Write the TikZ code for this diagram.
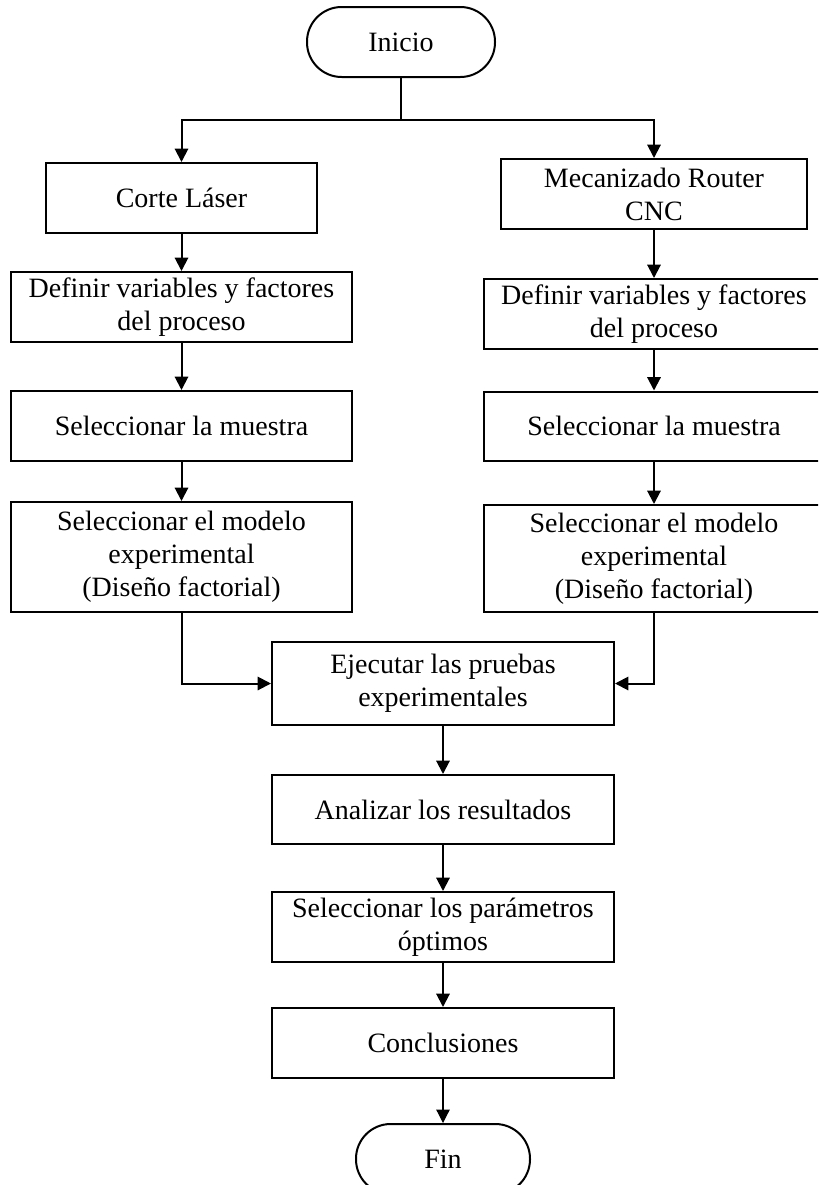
\documentclass[tikz,border=0pt]{standalone}
\usepackage{fontspec}
\setmainfont{Liberation Serif}
\usetikzlibrary{arrows.meta}
\begin{document}
\begin{tikzpicture}[x=0.75pt,y=-0.75pt,
  sz/.style 2 args={minimum width=#1*0.75pt,minimum height=#2*0.75pt},
  box/.style={draw,line width=1.5pt,rectangle,inner sep=0pt,align=center,
    font=\fontsize{21}{24.75}\selectfont},
  term/.style={box,rounded corners=26pt},
  flow/.style={line width=1.5pt,-{Triangle[length=10pt,width=10pt]}},
  thinflow/.style={flow,line width=0.9pt}]
\useasboundingbox (0,0) rectangle (818,1185);
\clip (0,0) rectangle (818,1185);

% start / end terminals
\node[term,sz={188}{70}] (inicio) at (401,42) {Inicio};
\node[term,sz={174}{70}] (fin) at (443,1159) {Fin};

% left branch: laser cutting
\node[box,sz={271}{70}] (corte) at (181.5,198) {Corte Láser};
\node[box,sz={341}{70}] (defL) at (181.5,307) {Definir variables y factores\\del proceso};
\node[box,sz={341}{70}] (muesL) at (181.5,426) {Seleccionar la muestra};
\node[box,sz={341}{110}] (modL) at (181.5,557) {Seleccionar el modelo\\experimental\\(Diseño factorial)};

% right branch: CNC router machining
\node[box,sz={306}{70}] (meca) at (654,194) {Mecanizado Router\\CNC};
\node[box,sz={341}{70}] (defR) at (654,314) {Definir variables y factores\\del proceso};
\node[box,sz={341}{69}] (muesR) at (654,426) {Seleccionar la muestra};
\node[box,sz={341}{107}] (modR) at (654,558.5) {Seleccionar el modelo\\experimental\\(Diseño factorial)};

% common trunk
\node[box,sz={342}{83}] (ejec) at (443,683.5) {Ejecutar las pruebas\\experimentales};
\node[box,sz={342}{69}] (anal) at (443,809.5) {Analizar los resultados};
\node[box,sz={342}{70}] (param) at (443,927) {Seleccionar los parámetros\\óptimos};
\node[box,sz={342}{70}] (concl) at (443,1043) {Conclusiones};

% split after the start
\coordinate (split) at (401,120);
\draw[line width=1.5pt] (inicio.south) -- (split);
\draw[flow] (split) -| (corte.north);
\draw[flow] (split) -| (meca.north);

% left column
\draw[flow] (corte) -- (defL);
\draw[flow] (defL) -- (muesL);
\draw[flow] (muesL) -- (modL);

% right column
\draw[flow] (meca) -- (defR);
\draw[flow] (defR) -- (muesR);
\draw[flow] (muesR) -- (modR);

% merge into the trunk
\draw[flow] (modL.south) |- (ejec.west);
\draw[flow] (modR.south) |- (ejec.east);

\draw[flow] (ejec) -- (anal);
\draw[flow] (anal) -- (param);
\draw[flow] (param) -- (concl);
\draw[thinflow] (concl) -- (fin);
\end{tikzpicture}
\end{document}
